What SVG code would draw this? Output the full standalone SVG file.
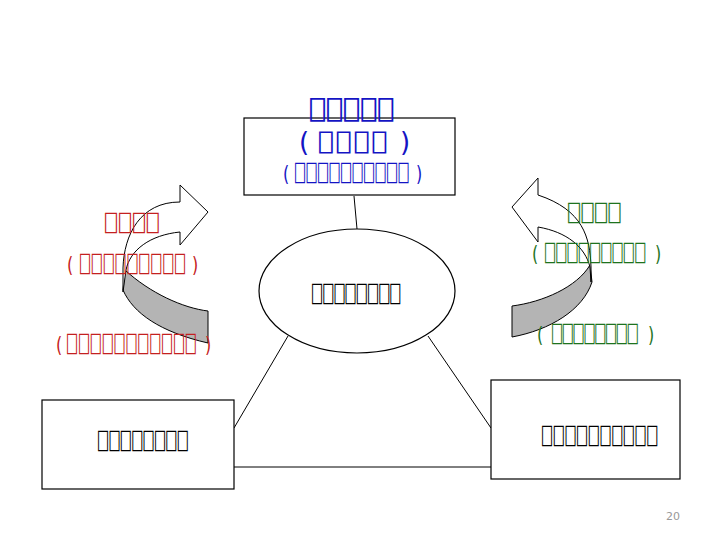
<svg xmlns="http://www.w3.org/2000/svg" width="720" height="540" viewBox="0 0 720 540">
<style>
.t{font-family:"DejaVu Sans Mono",monospace;font-size:22px;}
.bd{font-weight:bold;}
.p{font-family:"DejaVu Sans",sans-serif;font-size:21px;font-weight:normal;}
.blue{fill:#1414c4;}
.red{fill:#c42020;}
.green{fill:#1e731e;}
.blk{fill:#000;}
.box{fill:#fff;stroke:#000;stroke-width:1.2;}
.ln{stroke:#000;stroke-width:1;fill:none;}
.arw{fill:#fff;stroke:#000;stroke-width:1;}
.arg{fill:#b4b4b4;stroke:#000;stroke-width:1;}
</style>
<rect width="720" height="540" fill="#fff"/>
<g id="connectors">
<line class="ln" x1="354" y1="196" x2="357" y2="229"/>
<line class="ln" x1="288" y1="336" x2="234" y2="428"/>
<line class="ln" x1="428" y1="336" x2="491" y2="428"/>
<line class="ln" x1="234" y1="467" x2="491" y2="467"/>
</g>
<g id="node-top">
<rect class="box" x="244" y="118" width="211" height="77"/>
<text class="t bd blue" transform="translate(310,119)" style="font-size:25px" letter-spacing="2">⎕⎕⎕⎕⎕</text>
<text class="t blue" transform="translate(299,151)"><tspan class="p" x="0" style="font-size:26px">(</tspan><tspan class="bd" x="20" style="font-size:23px" letter-spacing="4">⎕⎕⎕⎕</tspan><tspan class="p" x="101" style="font-size:26px">)</tspan></text>
<text class="t blue" transform="translate(283,181) scale(0.76,1)"><tspan class="p" x="0">(</tspan><tspan x="15.8" letter-spacing="1.9">⎕⎕⎕⎕⎕⎕⎕⎕⎕⎕</tspan><tspan class="p" x="175">)</tspan></text>
</g>
<g id="node-center">
<ellipse class="box" cx="357" cy="291" rx="98" ry="62"/>
<text class="t blk" transform="translate(312,302) scale(0.76,1)" letter-spacing="1.5">⎕⎕⎕⎕⎕⎕⎕⎕</text>
</g>
<g id="node-left">
<rect class="box" x="42" y="400" width="192" height="89"/>
<text class="t blk" transform="translate(98,449) scale(0.76,1)" letter-spacing="1.76">⎕⎕⎕⎕⎕⎕⎕⎕</text>
</g>
<g id="node-right">
<rect class="box" x="491" y="380" width="189" height="99"/>
<text class="t blk" transform="translate(542,444) scale(0.76,1)" letter-spacing="2.15">⎕⎕⎕⎕⎕⎕⎕⎕⎕⎕</text>
</g>
<g id="arrow-left">
<path class="arg" d="M208,311 C183,308 150,293 125,270 L123,290 C133,313 160,332 208,343 Z"/>
<path class="arw" d="M123,292 L123,268 C124,235 140,202 180,202 L180,185 L208,212 L180,245 L180,232 C150,235 130,250 126,270 Z"/>
</g>
<g id="arrow-right">
<path class="arg" d="M512,306 C543,302 577,287 590,265 L592,282 C583,310 550,330 512,337 Z"/>
<path class="arw" d="M591,282 L591,267 C590,237 583,210 538,195 L538,178 L512,207 L538,242 L538,227 C567,232 585,247 590,267 Z"/>
</g>
<g id="labels-left">
<text class="t red" transform="translate(105,231) scale(0.91,1)" letter-spacing="2.1">⎕⎕⎕⎕</text>
<text class="t red" transform="translate(67,272) scale(0.76,1)"><tspan class="p" x="0">(</tspan><tspan x="17.1" letter-spacing="2.4">⎕⎕⎕⎕⎕⎕⎕⎕⎕</tspan><tspan class="p" x="164.5">)</tspan></text>
<text class="t red" transform="translate(56,352) scale(0.76,1)"><tspan class="p" x="0">(</tspan><tspan x="14.5" letter-spacing="2.4">⎕⎕⎕⎕⎕⎕⎕⎕⎕⎕⎕</tspan><tspan class="p" x="196">)</tspan></text>
</g>
<g id="labels-right">
<text class="t green" transform="translate(568,221) scale(0.91,1)" letter-spacing="1.6">⎕⎕⎕⎕</text>
<text class="t green" transform="translate(532,261) scale(0.76,1)"><tspan class="p" x="0">(</tspan><tspan x="17.1" letter-spacing="1.6">⎕⎕⎕⎕⎕⎕⎕⎕⎕</tspan><tspan class="p" x="161.8">)</tspan></text>
<text class="t green" transform="translate(537,342) scale(0.76,1)"><tspan class="p" x="0">(</tspan><tspan x="19.7" letter-spacing="1.0">⎕⎕⎕⎕⎕⎕⎕⎕</tspan><tspan class="p" x="146">)</tspan></text>
</g>
<text x="666" y="520" style="font-family:'DejaVu Sans',sans-serif;font-size:11px;fill:#999">20</text>
</svg>
